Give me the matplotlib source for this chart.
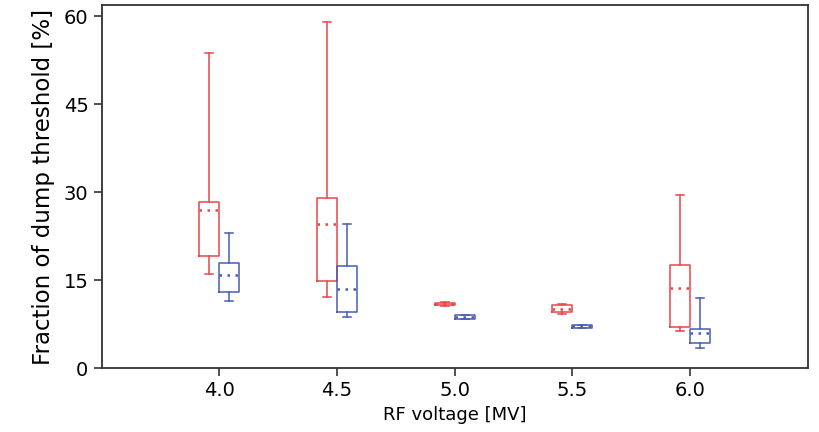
import matplotlib
matplotlib.use("Agg")
import matplotlib.pyplot as plt
import numpy as np

# RF voltage settings [MV]
voltages = [4.0, 4.5, 5.0, 5.5, 6.0]

# red series: whisker low, q1, median, q3, whisker high
red_low = [16.0, 12.1, 10.6, 9.3, 6.4]
red_q1 = [19.1, 14.8, 10.7, 9.5, 7.0]
red_med = [27.0, 24.5, 10.9, 10.1, 13.7]
red_q3 = [28.3, 29.0, 11.1, 10.7, 17.5]
red_high = [53.7, 59.1, 11.2, 10.9, 29.6]

# blue series
blue_low = [11.5, 8.7, 8.3, 6.8, 3.4]
blue_q1 = [12.9, 9.6, 8.4, 6.9, 4.3]
blue_med = [15.9, 13.5, 8.7, 7.1, 6.0]
blue_q3 = [18.0, 17.4, 9.0, 7.3, 6.7]
blue_high = [23.0, 24.5, 9.1, 7.4, 11.9]

yticks = [0, 15, 30, 45, 60]

red = "#e8454a"
blue = "#4a5cb0"


def make_stats(low, q1, med, q3, high):
    stats = []
    for i in range(len(low)):
        stats.append({"whislo": low[i], "q1": q1[i], "med": med[i],
                      "q3": q3[i], "whishi": high[i], "fliers": []})
    return stats


fig = plt.figure(figsize=(8.2, 4.32), dpi=100)
ax = fig.add_axes([0.124, 0.148, 0.861, 0.840])

w = 0.085
pos = np.array(voltages)

for stats, offset, col in [(make_stats(red_low, red_q1, red_med, red_q3, red_high), -w / 2, red),
                           (make_stats(blue_low, blue_q1, blue_med, blue_q3, blue_high), w / 2, blue)]:
    ax.bxp(stats, positions=pos + offset, widths=w, showfliers=False,
           capwidths=w * 0.4,
           boxprops=dict(color=col, linewidth=1.1),
           whiskerprops=dict(color=col, linewidth=1.1),
           capprops=dict(color=col, linewidth=1.1),
           medianprops=dict(color=col, linewidth=1.8, linestyle=(0, (1, 2.2))),
           manage_ticks=False)

ax.set_xlim(3.5, 6.5)
ax.set_ylim(0, 61.9)
ax.set_xticks(voltages)
ax.set_xticklabels(["{0:.1f}".format(v) for v in voltages])
ax.set_yticks(yticks)
ax.tick_params(labelsize=14, length=6, width=1.2, color="#333333")
ax.set_xlabel("RF voltage [MV]", fontsize=13)
ax.set_ylabel("Fraction of dump threshold [%]", fontsize=16.5, labelpad=6)
for s in ax.spines.values():
    s.set_linewidth(1.3)
    s.set_color("#333333")

fig.savefig("out.png", dpi=100)
